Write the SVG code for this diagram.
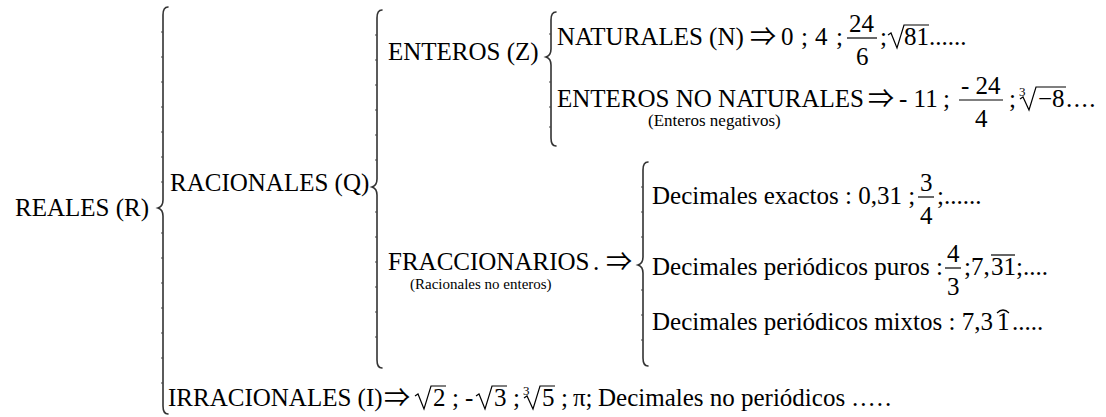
<svg xmlns="http://www.w3.org/2000/svg" width="1106" height="417" viewBox="0 0 1106 417">
<style>
text{font-family:"Liberation Serif","Times New Roman",serif;font-size:25px;fill:#000}
.sm{font-size:15px}
.sm2{font-size:17px}
.idx{font-size:13px}
.ar{font-family:"Noto Sans CJK JP","DejaVu Serif",sans-serif;font-size:26px}
.br{fill:none;stroke:#333;stroke-width:1.6;stroke-linecap:round}
.tk{fill:none;stroke:#444;stroke-width:1}
.ln{fill:none;stroke:#000;stroke-width:1.2}
.rad{fill:none;stroke:#000;stroke-width:1.2;stroke-linejoin:miter}
</style>
<rect width="1106" height="417" fill="#fff"/>
<g id="connectors">
<path class="br" d="M168,7 C164,7 163,10 163,15 L163,200 C163,205 161,207 158,208 C161,209 163,211 163,216 L163,406 C163,411 164,414 168,414"/>
<path class="tk" d="M161,32h2M161,57h2M161,82h2M161,107h2M161,132h2M161,157h2M161,182h2M161,233h2M161,258h2M161,283h2M161,308h2M161,333h2M161,358h2M161,383h2"/>
<path class="br" d="M382,10 C378,10 377,13 377,18 L377,179 C377,184 375,186 372,187 C375,188 377,190 377,195 L377,360 C377,365 378,368 382,368"/>
<path class="tk" d="M375,35h2M375,60h2M375,85h2M375,110h2M375,135h2M375,160h2M375,212h2M375,237h2M375,262h2M375,287h2M375,312h2M375,337h2"/>
<path class="br" d="M556,12 C552,12 551,15 551,20 L551,49 C551,54 549,56 546,57 C549,58 551,60 551,65 L551,138 C551,143 552,146 556,146"/>
<path class="tk" d="M549,34h2M549,82h2M549,107h2M549,127h2"/>
<path class="br" d="M648,162 C644,162 643,165 643,170 L643,257 C643,262 641,264 638,265 C641,266 643,268 643,273 L643,358 C643,363 644,366 648,366"/>
<path class="tk" d="M641,187h2M641,212h2M641,237h2M641,290h2M641,315h2M641,340h2"/>
</g>
<g id="reales"><text x="15" y="216">REALES (R)</text></g>
<g id="racionales"><text x="170" y="191">RACIONALES (Q)</text></g>
<g id="irracionales">
<text x="168" y="406">IRRACIONALES (I)</text>
<text class="ar" x="384" y="407">⇒</text>
<path class="rad" d="M415,396 L418,394 L424,409 L431,386 L446,386"/>
<text x="433" y="406">2</text>
<text x="452" y="406">;</text>
<text x="465" y="406">-</text>
<path class="rad" d="M476,396 L479,394 L485,409 L492,386 L507,386"/>
<text x="494" y="406">3</text>
<text x="513" y="406">;</text>
<text class="idx" x="523" y="395">3</text>
<path class="rad" d="M524,398 L527,396 L533,409 L540,386 L555,386"/>
<text x="542" y="406">5</text>
<text x="561" y="406">;</text>
<text x="573" y="406">π;</text>
<text x="598" y="406">Decimales no periódicos</text>
<text x="852" y="406" letter-spacing="2">.....</text>
</g>
<g id="enteros"><text x="388" y="60">ENTEROS (Z)</text></g>
<g id="naturales">
<text x="557" y="45">NATURALES (N)</text>
<text class="ar" x="750" y="46">⇒</text>
<text x="781" y="45">0</text>
<text x="801" y="45">;</text>
<text x="815" y="45">4</text>
<text x="836" y="45">;</text>
<text x="849" y="32">24</text>
<path class="ln" d="M847,38 L877,38"/>
<text x="856" y="65">6</text>
<text x="880" y="45">;</text>
<path class="rad" d="M888,35 L891,33 L897,48 L904,25 L929,25"/>
<text x="904" y="45">81......</text>
</g>
<g id="enteros-no-naturales">
<text x="557" y="107">ENTEROS NO NATURALES</text>
<text class="sm2" x="648" y="126">(Enteros negativos)</text>
<text class="ar" x="868" y="108">⇒</text>
<text x="899" y="107">- 11</text>
<text x="943" y="107">;</text>
<text x="961" y="94">- 24</text>
<path class="ln" d="M959,100 L1003,100"/>
<text x="975" y="127">4</text>
<text x="1009" y="107">;</text>
<text class="idx" x="1019" y="96">3</text>
<path class="rad" d="M1020,99 L1023,97 L1029,110 L1036,87 L1066,87"/>
<text x="1038" y="107">−8</text>
<text x="1066" y="107" letter-spacing="1.5">....</text>
</g>
<g id="fraccionarios">
<text x="388" y="270">FRACCIONARIOS</text>
<text x="593" y="270">.</text>
<text class="ar" x="606" y="271">⇒</text>
<text class="sm" x="410" y="289">(Racionales no enteros)</text>
</g>
<g id="exactos">
<text x="652" y="204">Decimales exactos : 0,31 ;</text>
<text x="920" y="191">3</text>
<path class="ln" d="M918,197 L934,197"/>
<text x="920" y="224">4</text>
<text x="937" y="204">;......</text>
</g>
<g id="puros">
<text x="652" y="275">Decimales periódicos puros :</text>
<text x="947" y="262">4</text>
<path class="ln" d="M945,268 L961,268"/>
<text x="947" y="295">3</text>
<text x="964" y="275">;7,</text>
<path class="ln" d="M991,255 L1015,255"/>
<text x="991" y="275">31;....</text>
</g>
<g id="mixtos">
<text x="652" y="330">Decimales periódicos mixtos : 7,3</text>
<text x="997" y="330">1</text>
<path class="ln" d="M997,313 Q1003,307 1009,313"/>
<text x="1012" y="330">.....</text>
</g>
</svg>
